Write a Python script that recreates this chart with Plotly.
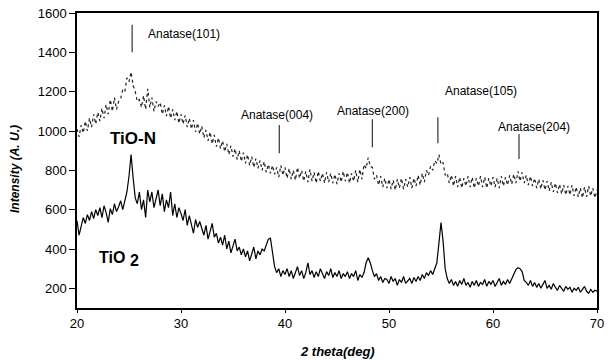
import numpy as np
import plotly.graph_objects as go

two_theta = np.round(np.arange(20, 70.0001, 0.2), 1)

tio2 = [
    545, 470, 515, 560, 530, 575, 545, 590, 555, 600,
    570, 610, 560, 620, 585, 535, 605, 575, 630, 590,
    615, 645, 600, 650, 690, 770, 880, 760, 660, 630,
    690, 600, 650, 560, 700, 640, 690, 610, 665, 700,
    620, 680, 590, 650, 610, 690, 570, 630, 560, 610,
    580, 545, 600, 520, 570, 530, 480, 550, 510, 540,
    500, 470, 520, 450, 490, 530, 460, 480, 430, 460,
    420, 470, 400, 440, 380, 420, 450, 390, 410, 370,
    400, 360, 390, 340, 380, 410, 350, 390, 370, 400,
    390, 420, 450, 455, 380, 310, 280, 300, 260, 290,
    270, 300, 260, 290, 250, 280, 310, 265, 290, 250,
    280, 330, 270, 290, 255, 285, 260, 300, 275, 250,
    285, 265, 300, 255, 280, 260, 290, 250, 275, 260,
    285, 250, 275, 260, 290, 240, 270, 255, 280, 330,
    355, 330, 290, 260, 275, 240, 260, 230, 250, 245,
    225, 260, 235, 250, 215, 245, 230, 260, 225, 240,
    250, 225, 255, 235, 260, 240, 270, 250, 280, 265,
    290, 270, 300, 330, 430, 535, 440, 300, 250, 225,
    245, 215, 235, 210, 240, 220, 250, 215, 230, 205,
    235, 215, 240, 210, 230, 220, 245, 210, 235, 220,
    240, 210, 230, 250, 215, 235, 220, 245, 225, 250,
    270, 295, 305, 300, 285, 240, 230, 215, 240, 210,
    230, 205, 225, 200, 220, 240, 200, 215, 195, 225,
    205, 190, 215, 200, 185, 210, 195, 205, 180, 200,
    190, 205, 180, 195, 210, 185, 175, 195, 180, 190,
    185,
]

tio_n = [
    1010, 970, 1030, 990, 1050, 1000, 1065, 1020, 1085, 1035,
    1095, 1050, 1115, 1065, 1135, 1085, 1160, 1100, 1170, 1110,
    1150, 1165, 1210, 1200, 1270, 1250, 1300, 1230, 1200, 1150,
    1160, 1120, 1180, 1110, 1215, 1120, 1170, 1100, 1150, 1125,
    1145, 1085, 1130, 1075, 1125, 1065, 1110, 1055, 1100, 1040,
    1085, 1035, 1080, 1020, 1065, 1010, 1055, 995, 1040, 985,
    1025, 965, 1005, 950, 995, 935, 980, 920, 965, 910,
    950, 895, 935, 880, 925, 870, 910, 855, 900, 845,
    890, 835, 880, 825, 870, 815, 860, 810, 850, 800,
    845, 790, 830, 785, 825, 780, 815, 765, 825, 775,
    815, 760, 810, 755, 800, 750, 815, 760, 800, 745,
    795, 740, 805, 745, 790, 735, 795, 745, 785, 735,
    790, 740, 785, 735, 780, 730, 785, 740, 795, 745,
    790, 735, 785, 745, 800, 740, 805, 755, 830, 810,
    865, 820, 815, 755, 775, 725, 770, 715, 760, 710,
    755, 705, 750, 700, 755, 710, 760, 705, 755, 715,
    765, 710, 760, 720, 775, 725, 785, 740, 800, 775,
    820, 800, 850, 835, 880, 830, 840, 775, 785, 735,
    775, 720, 770, 715, 765, 710, 760, 720, 770, 715,
    765, 710, 760, 720, 770, 715, 765, 710, 760, 720,
    765, 715, 760, 710, 770, 720, 765, 725, 775, 730,
    780, 735, 795, 745, 790, 735, 775, 725, 770, 720,
    760, 710, 755, 705, 750, 700, 745, 695, 740, 690,
    735, 685, 730, 680, 725, 675, 720, 675, 725, 670,
    715, 665, 710, 660, 715, 665, 720, 670, 710, 660,
    700,
]

peak_labels = ["Anatase(101)", "Anatase(004)", "Anatase(200)", "Anatase(105)", "Anatase(204)"]
peak_pos = [25.3, 39.45, 48.4, 54.7, 62.5]
peak_line_top = [1540, 1030, 1060, 1070, 985]
peak_line_bottom = [1400, 887, 918, 938, 857]
peak_text_x = [26.6, 39.2, 48.5, 58.8, 63.9]
peak_text_y = [1493, 1081, 1101, 1203, 1020]
peak_text_anchor = ["left", "center", "center", "center", "center"]

sample_main = ["TiO-N", "TiO"]
sample_sub = ["", "2"]
sample_x = [25.4, 24.84]
sample_y = [964, 355]
sample_size = [17, 16]

y_ticks = [200, 400, 600, 800, 1000, 1200, 1400, 1600]
x_ticks = [20, 30, 40, 50, 60, 70]

FONT = "Liberation Sans, Arial, sans-serif"

fig = go.Figure()
fig.add_trace(go.Scatter(x=two_theta, y=tio_n, mode="lines",
                         line=dict(color="#222222", width=1.2, dash="dot"),
                         showlegend=False))
fig.add_trace(go.Scatter(x=two_theta, y=tio2, mode="lines",
                         line=dict(color="black", width=1.2),
                         showlegend=False))

shapes = []
annotations = []
for lab, px, y0, y1, tx, ty, anc in zip(peak_labels, peak_pos, peak_line_bottom,
                                          peak_line_top, peak_text_x, peak_text_y,
                                          peak_text_anchor):
    shapes.append(dict(type="line", xref="x", yref="y", x0=px, x1=px, y0=y0, y1=y1,
                       line=dict(color="#333333", width=1.2)))
    annotations.append(dict(x=tx, y=ty, xref="x", yref="y", text=lab, showarrow=False,
                            xanchor=anc, yanchor="middle",
                            font=dict(family=FONT, size=12, color="black")))

for lab, sub, sx, sy, fs in zip(sample_main, sample_sub, sample_x, sample_y, sample_size):
    if sub:
        annotations.append(dict(x=sx, y=sy, xref="x", yref="y", text="<b>" + lab + "</b>",
                                showarrow=False, xanchor="right", yanchor="middle",
                                font=dict(family=FONT, size=fs, color="black")))
        annotations.append(dict(x=sx, y=sy, xref="x", yref="y", text="<b>" + sub + "</b>",
                                showarrow=False, xanchor="left", yanchor="middle",
                                xshift=1, yshift=-3,
                                font=dict(family=FONT, size=fs, color="black")))
    else:
        annotations.append(dict(x=sx, y=sy, xref="x", yref="y", text="<b>" + lab + "</b>",
                                showarrow=False, xanchor="center", yanchor="middle",
                                font=dict(family=FONT, size=fs, color="black")))

annotations.append(dict(x=0.5, y=-0.149, xref="paper", yref="paper",
                        text="<b><i>2 theta(deg)</i></b>", showarrow=False,
                        xanchor="center", yanchor="middle",
                        font=dict(family=FONT, size=13, color="black")))
annotations.append(dict(x=-0.118, y=0.47, xref="paper", yref="paper",
                        text="<b><i>Intensity (A. U.)</i></b>", showarrow=False,
                        textangle=-90, xanchor="center", yanchor="middle",
                        font=dict(family=FONT, size=12, color="black")))

fig.update_layout(
    width=610, height=360,
    margin=dict(l=77, r=6, t=13, b=52),
    paper_bgcolor="white", plot_bgcolor="white",
    shapes=shapes, annotations=annotations,
    font=dict(family=FONT, size=13, color="black"),
)
fig.update_xaxes(range=[20, 70], tickvals=x_ticks, ticks="outside", ticklen=3,
                 tickcolor="black", showline=True, linecolor="black", linewidth=1.5,
                 mirror=True, showgrid=False, zeroline=False,
                 tickfont=dict(family=FONT, size=13, color="black"))
fig.update_yaxes(range=[100, 1600], tickvals=y_ticks, ticks="outside", ticklen=6,
                 tickcolor="black", showline=True, linecolor="black", linewidth=1.5,
                 mirror=True, showgrid=False, zeroline=False,
                 tickfont=dict(family=FONT, size=13, color="black"))

fig.write_html("out.html")
